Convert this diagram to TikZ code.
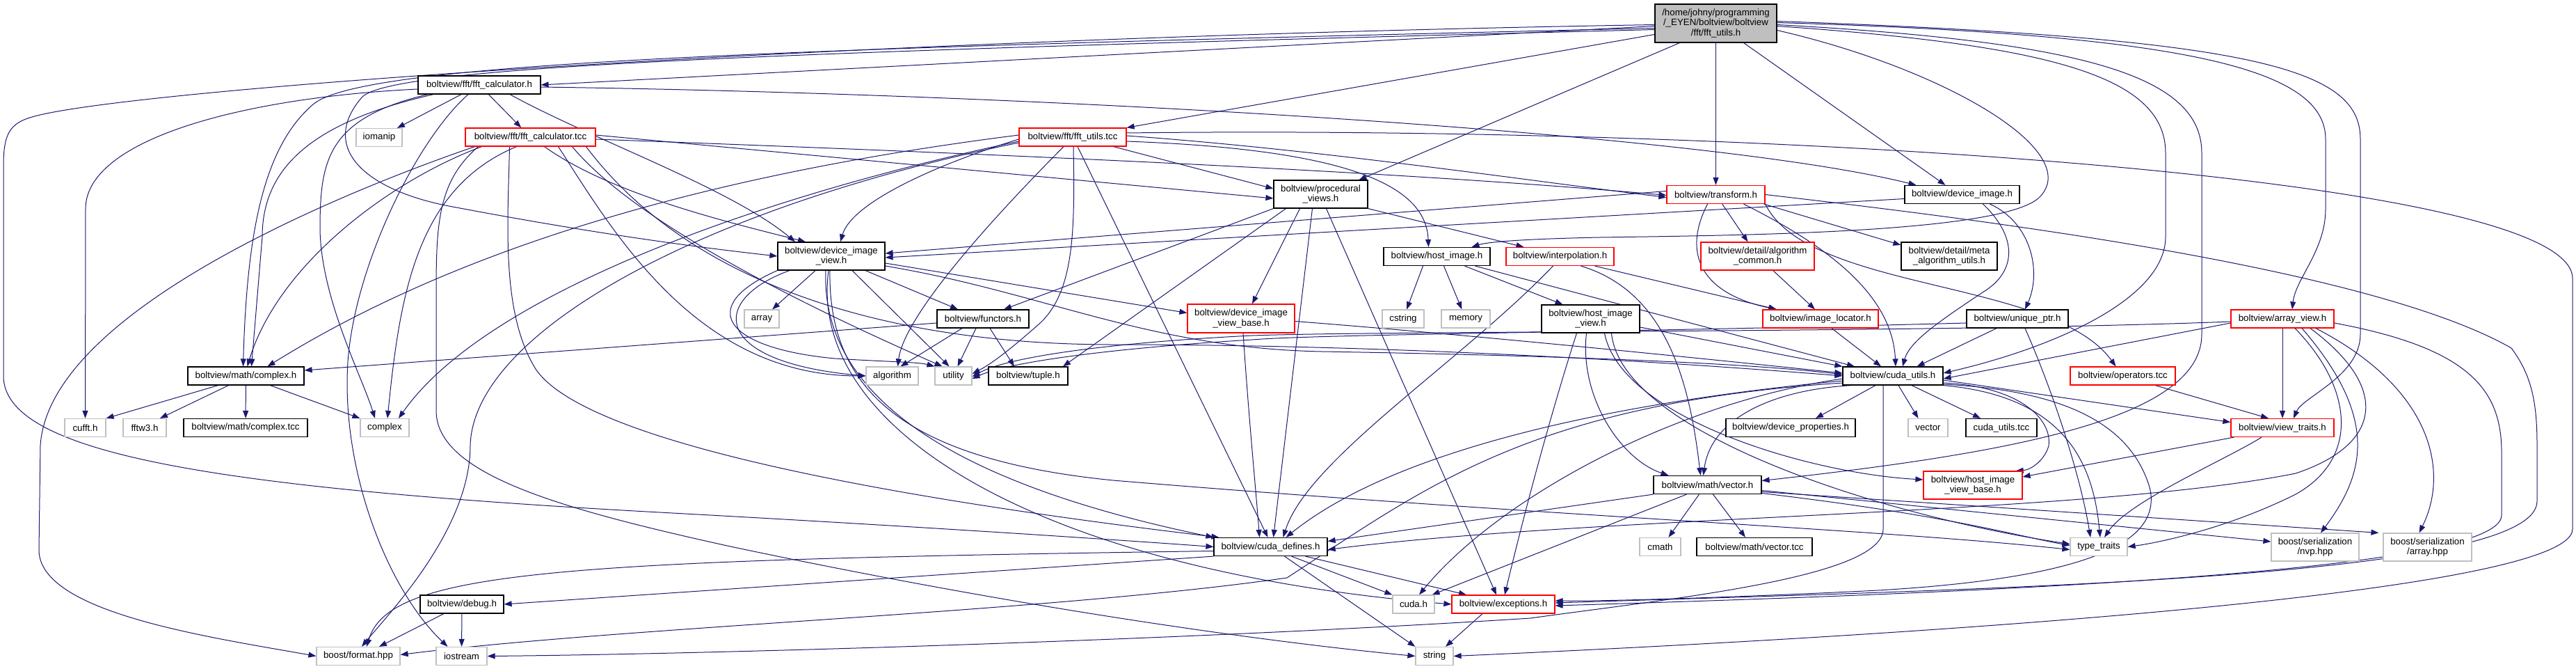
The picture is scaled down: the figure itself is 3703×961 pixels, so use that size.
\documentclass[tikz,border=0pt]{standalone}
\usepackage{fontspec}
\setmainfont{Liberation Sans}
\usetikzlibrary{arrows.meta}

\definecolor{midnight}{HTML}{191970}
\definecolor{grey75}{HTML}{BFBFBF}

\pgfdeclarelayer{bg}
\pgfsetlayers{bg,main}

\tikzset{
  file/.style={draw=black, fill=white, line width=1.2pt, inner xsep=2pt, inner ysep=0pt,
    minimum height=26pt, align=center, font=\fontsize{13.3}{14.2}\selectfont},
  ext/.style={file, draw=grey75},
  trunc/.style={file, draw=red},
  mainfile/.style={file, fill=grey75},
  dep/.style={draw=midnight, line width=1pt, -{Triangle[length=11pt,width=8pt]}},
}

\begin{document}
\begin{tikzpicture}[x=1pt, y=-1pt]
\useasboundingbox (0,0) rectangle (3703,961);

% the header itself
\node[mainfile, minimum width=175pt, minimum height=55pt] (top) at (2466.5,33.5) {/home/johny/programming\\/\_EYEN/boltview/boltview\\/fft/fft\_utils.h};

% fft files
\node[file, minimum width=176pt] (fftcalc) at (689,122) {boltview/fft/fft\_calculator.h};
\node[ext, minimum width=66pt] (iomanip) at (545,197.5) {iomanip};
\node[trunc, minimum width=187pt] (fftcalctcc) at (762.5,197) {boltview/fft/fft\_calculator.tcc};
\node[trunc, minimum width=154pt] (fftutilstcc) at (1542,197) {boltview/fft/fft\_utils.tcc};

% second rank
\node[file, minimum width=135pt, minimum height=40pt] (procviews) at (1898.5,279) {boltview/procedural\\\_views.h};
\node[trunc, minimum width=141pt] (transform) at (2466.5,279.5) {boltview/transform.h};
\node[file, minimum width=165pt] (devimage) at (2820.5,279.5) {boltview/device\_image.h};
\node[file, minimum width=154pt, minimum height=40pt] (devimgview) at (1195,368) {boltview/device\_image\\\_view.h};
\node[file, minimum width=153pt] (hostimage) at (2065.5,368.5) {boltview/host\_image.h};
\node[trunc, minimum width=155pt] (interp) at (2242.5,368.5) {boltview/interpolation.h};
\node[trunc, minimum width=163pt, minimum height=40pt] (algcommon) at (2526.5,368) {boltview/detail/algorithm\\\_common.h};
\node[file, minimum width=138pt, minimum height=40pt] (metaalg) at (2802,368) {boltview/detail/meta\\\_algorithm\_utils.h};

% third rank
\node[ext, minimum width=50pt] (array) at (1095,458) {array};
\node[file, minimum width=132pt] (functors) at (1413,458) {boltview/functors.h};
\node[trunc, minimum width=154pt, minimum height=41pt] (devimgviewbase) at (1784,457.5) {boltview/device\_image\\\_view\_base.h};
\node[ext, minimum width=60pt] (cstring) at (2017,458) {cstring};
\node[ext, minimum width=70pt] (memory) at (2107,458) {memory};
\node[file, minimum width=141pt, minimum height=40pt] (hostimgview) at (2286.5,458) {boltview/host\_image\\\_view.h};
\node[trunc, minimum width=166pt] (imglocator) at (2617,458) {boltview/image\_locator.h};
\node[file, minimum width=146pt] (uniqueptr) at (2900,458) {boltview/unique\_ptr.h};
\node[trunc, minimum width=148pt] (arrayview) at (3281,458) {boltview/array\_view.h};

% fourth rank
\node[file, minimum width=167pt] (complexh) at (353.5,540) {boltview/math/complex.h};
\node[ext, minimum width=75pt] (algorithm) at (1282.5,540) {algorithm};
\node[ext, minimum width=53pt] (utility) at (1370.5,540) {utility};
\node[file, minimum width=114pt] (tuple) at (1478,540) {boltview/tuple.h};
\node[file, minimum width=144pt] (cudautils) at (2721,540) {boltview/cuda\_utils.h};
\node[trunc, minimum width=151pt] (operators) at (3051.5,540) {boltview/operators.tcc};

% fifth rank
\node[ext, minimum width=59pt] (cufft) at (122.5,614.5) {cufft.h};
\node[ext, minimum width=62pt] (fftw3) at (208,614.5) {fftw3.h};
\node[file, minimum width=178pt] (complextcc) at (353,614.5) {boltview/math/complex.tcc};
\node[ext, minimum width=70pt] (complex) at (553,614.5) {complex};
\node[file, minimum width=186pt] (devprops) at (2574,614.5) {boltview/device\_properties.h};
\node[ext, minimum width=57pt] (vector) at (2771.5,614.5) {vector};
\node[file, minimum width=102pt] (cudautilstcc) at (2877,614.5) {cuda\_utils.tcc};
\node[trunc, minimum width=148pt] (viewtraits) at (3281,614.5) {boltview/view\_traits.h};
\node[file, minimum width=155pt] (mathvector) at (2454.5,696.5) {boltview/math/vector.h};
\node[trunc, minimum width=142pt, minimum height=40pt] (hostimgviewbase) at (2836,697) {boltview/host\_image\\\_view\_base.h};

% sixth rank
\node[file, minimum width=163pt] (cudadefines) at (1826.5,785.5) {boltview/cuda\_defines.h};
\node[ext, minimum width=59pt] (cmath) at (2386.5,785.5) {cmath};
\node[file, minimum width=166pt] (vectortcc) at (2522,785.5) {boltview/math/vector.tcc};
\node[ext, minimum width=82pt] (typetraits) at (3017,785.5) {type\_traits};
\node[ext, minimum width=126pt, minimum height=40pt] (nvp) at (3328,786) {boost/serialization\\/nvp.hpp};
\node[ext, minimum width=127pt, minimum height=40pt] (arrayhpp) at (3489.5,786) {boost/serialization\\/array.hpp};

% bottom
\node[file, minimum width=120pt] (debug) at (664,868) {boltview/debug.h};
\node[ext, minimum width=60pt] (cudah) at (2032,868) {cuda.h};
\node[trunc, minimum width=148pt] (exceptions) at (2161,868) {boltview/exceptions.h};
\node[ext, minimum width=120pt] (format) at (515,942.5) {boost/format.hpp};
\node[ext, minimum width=73pt] (iostream) at (663.5,942.5) {iostream};
\node[ext, minimum width=54pt] (string) at (2062,942.5) {string};

\begin{pgfonlayer}{bg}
% from fft_utils.h
\draw[dep] ([yshift=-4pt]top.west) -- (fftcalc.east);
\draw[dep] ([yshift=-16pt]top.west) -- (fftutilstcc.north east);
\draw[dep] ([xshift=36pt]top.south west) -- ([xshift=55pt]procviews.north);
\draw[dep] (top) -- (transform);
\draw[dep] ([xshift=-48pt]top.south east) -- ([xshift=-24pt]devimage.north);
\draw[dep] ([yshift=-7pt]top.west) .. controls (1100,70) and (520,90) .. (450,150) .. controls (380,210) and (355,330) .. ([xshift=-4pt]complexh.north);
\draw[dep] ([yshift=-9pt]top.west) .. controls (1100,75) and (560,95) .. (520,140) .. controls (460,210) and (520,270) .. (640,295) .. controls (850,335) and (1000,355) .. (devimgview.west);
\draw[dep] ([yshift=-2pt]top.west) .. controls (1200,55) and (150,130) .. (40,170) .. controls (10,180) and (5,200) .. (5,240) -- (5,540) .. controls (5,650) and (300,700) .. (930,735) .. controls (1300,755) and (1600,775) .. (cudadefines.west);
\draw[dep] ([yshift=-10pt]top.east) .. controls (2800,100) and (3000,220) .. (2930,285) .. controls (2870,335) and (2500,338) .. (2300,341) .. controls (2200,343) and (2140,347) .. ([xshift=50pt]hostimage.north);
\draw[dep] ([yshift=-4pt]top.east) .. controls (2950,65) and (3113,110) .. (3113,220) -- (3113,340) .. controls (3113,430) and (2950,500) .. ([yshift=4pt]cudautils.east);
\draw[dep] ([yshift=-2pt]top.east) .. controls (3000,60) and (3165,110) .. (3165,220) -- (3165,480) .. controls (3165,600) and (2900,650) .. ([yshift=6pt]mathvector.east);
\draw[dep] ([yshift=1pt]top.east) .. controls (3150,50) and (3343,100) .. (3343,200) -- (3343,300) .. controls (3343,360) and (3300,400) .. ([xshift=14pt]arrayview.north);
\draw[dep] ([yshift=3pt]top.east) .. controls (3250,55) and (3393,100) .. (3393,200) -- (3393,480) .. controls (3393,540) and (3310,570) .. ([xshift=16pt]viewtraits.north);

% from fft_calculator.h
\draw[dep] (fftcalc) -- (iomanip);
\draw[dep] (fftcalc) -- (fftcalctcc);
\draw[dep] ([yshift=-6pt]fftcalc.west) .. controls (350,140) and (123,200) .. (123,300) -- (cufft.north);
\draw[dep] ([xshift=-66pt]fftcalc.south) .. controls (450,175) and (377,240) .. (377,340) -- ([xshift=8pt]complexh.north);
\draw[dep] ([xshift=-74pt]fftcalc.south) .. controls (470,170) and (460,230) .. (460,330) .. controls (462,430) and (520,540) .. ([xshift=-14pt]complex.north);
\draw[dep] ([xshift=-16pt]fftcalc.south) .. controls (600,200) and (510,380) .. (500,520) .. controls (490,680) and (560,850) .. ([xshift=-20pt]iostream.north);
\draw[dep] ([yshift=-3pt]fftcalc.east) .. controls (1500,135) and (2450,190) .. ([xshift=-66pt]devimage.north);
\draw[dep] ([xshift=44pt]fftcalc.south) .. controls (850,200) and (1050,270) .. ([xshift=-52pt]devimgview.north);

% from fft_calculator.tcc
\draw[dep] ([yshift=3pt]fftcalctcc.east) -- ([yshift=-6pt]procviews.west);
\draw[dep] ([yshift=-3pt]fftcalctcc.east) .. controls (1400,220) and (2000,245) .. ([yshift=-1pt]transform.west);
\draw[dep] ([xshift=20pt]fftcalctcc.south) .. controls (880,280) and (1050,320) .. ([xshift=-37pt]devimgview.north);
\draw[dep] ([xshift=-70pt]fftcalctcc.south) .. controls (560,260) and (400,380) .. ([xshift=2pt]complexh.north);
\draw[dep] ([xshift=-20pt]fftcalctcc.south) .. controls (600,270) and (575,420) .. ([xshift=4pt]complex.north);
\draw[dep] ([xshift=-80pt]fftcalctcc.south) .. controls (480,280) and (70,450) .. (58,640) -- (56,790) .. controls (56,880) and (300,915) .. (format.west);
\draw[dep] ([xshift=-30pt]fftcalctcc.south) .. controls (730,320) and (720,450) .. (770,530) .. controls (850,650) and (1400,730) .. ([xshift=8pt]cudadefines.north west);
\draw[dep] ([xshift=-75pt]fftcalctcc.south) .. controls (630,260) and (627,320) .. (627,420) -- (627,590) .. controls (627,680) and (800,730) .. (1050,785) .. controls (1500,880) and (1850,925) .. (string.west);
\draw[dep] ([xshift=40pt]fftcalctcc.south) .. controls (880,330) and (1000,540) .. (algorithm.west);
\draw[dep] ([xshift=60pt]fftcalctcc.south) .. controls (930,340) and (1250,480) .. ([xshift=-16pt]utility.north);
\draw[dep] ([xshift=80pt]fftcalctcc.south) .. controls (1000,420) and (1300,495) .. (1600,495) .. controls (2000,495) and (2400,520) .. (cudautils.west);

% from fft_utils.tcc
\draw[dep] ([xshift=-19pt]fftutilstcc.south east) -- ([yshift=8pt]procviews.west);
\draw[dep] ([yshift=2pt]fftutilstcc.east) .. controls (1900,215) and (2200,260) .. ([yshift=-4pt]transform.west);
\draw[dep] ([yshift=-6pt]fftutilstcc.east) .. controls (1950,215) and (2050,270) .. ([xshift=-12pt]hostimage.north);
\draw[dep] ([yshift=6pt]fftutilstcc.east) .. controls (2500,180) and (3698,250) .. (3698,400) -- (3698,760) .. controls (3698,860) and (2600,920) .. (string.east);
\draw[dep] ([yshift=-3pt]fftutilstcc.west) .. controls (1350,235) and (1225,290) .. ([xshift=13pt]devimgview.north);
\draw[dep] ([yshift=3pt]fftutilstcc.west) .. controls (1100,240) and (700,330) .. ([xshift=31pt]complexh.north);
\draw[dep] ([yshift=-6pt]fftutilstcc.west) .. controls (1100,280) and (700,420) .. ([xshift=20pt]complex.north);
\draw[dep] ([yshift=-8pt]fftutilstcc.west) .. controls (1000,300) and (680,480) .. (676,640) .. controls (676,760) and (560,880) .. ([xshift=5pt]format.north);
\draw[dep] ([xshift=-13pt]fftutilstcc.south) .. controls (1440,300) and (1300,450) .. ([xshift=8pt]algorithm.north);
\draw[dep] ([xshift=1pt]fftutilstcc.south) .. controls (1545,330) and (1545,420) .. (1493,466) .. controls (1460,495) and (1430,520) .. ([yshift=3pt]utility.east);
\draw[dep] ([xshift=7pt]fftutilstcc.south) -- ([xshift=-4pt]cudadefines.north);

% from procedural_views.h
\draw[dep] (procviews.south west) -- ([xshift=30pt]functors.north);
\draw[dep] ([xshift=-50pt]procviews.south) -- ([xshift=50pt]tuple.north);
\draw[dep] ([xshift=-30pt]procviews.south) -- ([xshift=16pt]devimgviewbase.north);
\draw[dep] (procviews.south east) -- ([xshift=-52pt]interp.north);
\draw[dep] ([xshift=-12pt]procviews.south) -- ([xshift=4pt]cudadefines.north);
\draw[dep] ([xshift=8pt]procviews.south) -- ([xshift=-10pt]exceptions.north);

% from transform.h
\draw[dep] ([yshift=5pt]transform.west) -- ([yshift=4pt]devimgview.east);
\draw[dep] (transform) -- (algcommon);
\draw[dep] ([xshift=-2pt]transform.south east) -- ([yshift=16pt]metaalg.west);
\draw[dep] ([xshift=-12pt]transform.south) .. controls (2420,360) and (2440,420) .. ([xshift=-64pt]imglocator.north);
\draw[dep] ([xshift=40pt]transform.south) .. controls (2620,350) and (2720,420) .. ([xshift=4pt]cudautils.north);
\draw[dep] (transform.south east) .. controls (2600,420) and (2950,400) .. ([xshift=-10pt]operators.north);
\draw[dep] (transform.east) .. controls (2800,310) and (3400,380) .. (3610,500) .. controls (3640,540) and (3647,580) .. (3647,640) -- (3647,720) .. controls (3647,830) and (2900,845) .. ([yshift=2pt]exceptions.east);

% from device_image.h
\draw[dep] ([yshift=-6pt]devimage.west) -- ([yshift=-2pt]devimgview.east);
\draw[dep] ([xshift=40pt]devimage.south) .. controls (2920,320) and (2935,390) .. ([xshift=11pt]uniqueptr.north);
\draw[dep] ([xshift=30pt]devimage.south) .. controls (2900,340) and (2900,390) .. (2850,420) .. controls (2790,460) and (2745,490) .. ([xshift=14pt]cudautils.north);

% from device_image_view.h
\draw[dep] (devimgview) -- (array);
\draw[dep] (devimgview) -- ([xshift=-36pt]functors.north);
\draw[dep] ([yshift=-10pt]devimgview.east) -- ([yshift=8pt]devimgviewbase.west);
\draw[dep] ([xshift=-60pt]devimgview.south) .. controls (1020,430) and (1020,520) .. (algorithm.west);
\draw[dep] (devimgview.south west) .. controls (1000,440) and (1040,500) .. (1200,515) .. controls (1280,520) and (1320,520) .. (utility.north west);
\draw[dep] ([xshift=30pt]devimgview.south) -- ([xshift=-6pt]utility.north);
\draw[dep] ([yshift=-14pt]devimgview.east) .. controls (1500,420) and (1650,500) .. (1900,505) .. controls (2200,510) and (2500,520) .. ([yshift=2pt]cudautils.west);
\draw[dep] ([xshift=-8pt]devimgview.south) .. controls (1180,560) and (1350,690) .. (cudadefines.north west);
\draw[dep] ([xshift=-4pt]devimgview.south) .. controls (1160,620) and (1500,820) .. (exceptions.west);
\draw[dep] ([xshift=-2pt]devimgview.south) .. controls (1190,560) and (1300,660) .. (1600,690) .. controls (2200,740) and (2700,760) .. ([yshift=-4pt]typetraits.west);

% from functors.h
\draw[dep] ([yshift=-6pt]functors.west) -- ([yshift=8pt]complexh.east);
\draw[dep] ([xshift=-30pt]functors.south) -- ([xshift=12pt]algorithm.north);
\draw[dep] ([xshift=-10pt]functors.south) -- ([xshift=6pt]utility.north);
\draw[dep] ([xshift=10pt]functors.south) -- ([xshift=-20pt]tuple.north);

% from device_image_view_base.h
\draw[dep] ([xshift=3pt]devimgviewbase.south) .. controls (1795,600) and (1805,700) .. ([xshift=-16pt]cudadefines.north);
\draw[dep] ([yshift=-4pt]devimgviewbase.east) .. controls (2100,480) and (2400,510) .. ([yshift=4pt]cudautils.west);

% from host_image.h
\draw[dep] ([xshift=-20pt]hostimage.south) -- (cstring);
\draw[dep] ([xshift=10pt]hostimage.south) -- (memory);
\draw[dep] ([xshift=40pt]hostimage.south) -- ([xshift=-40pt]hostimgview.north);
\draw[dep] ([xshift=55pt]hostimage.south) -- ([xshift=-55pt]cudautils.north);

% from interpolation.h
\draw[dep] ([xshift=50pt]interp.south) -- ([xshift=-63pt]imglocator.north);
\draw[dep] ([xshift=-10pt]interp.south) .. controls (2100,520) and (1880,660) .. ([xshift=18pt]cudadefines.north);
\draw[dep] ([xshift=30pt]interp.south) .. controls (2400,420) and (2430,560) .. ([xshift=-10pt]mathvector.north);

% from detail/algorithm_common.h and image_locator.h
\draw[dep] (algcommon) -- ([xshift=-8pt]imglocator.north);
\draw[dep] ([xshift=16pt]imglocator.south) -- ([xshift=-17pt]cudautils.north);

% from host_image_view.h
\draw[dep] ([yshift=-12pt]hostimgview.east) -- (cudautils.north west);
\draw[dep] ([xshift=-20pt]hostimgview.south) .. controls (2240,560) and (2200,700) .. ([xshift=2pt]exceptions.north);
\draw[dep] ([xshift=-6pt]hostimgview.south) .. controls (2270,570) and (2330,660) .. ([xshift=-56pt]mathvector.north);
\draw[dep] ([xshift=20pt]hostimgview.south) .. controls (2330,600) and (2600,680) .. ([yshift=8pt]hostimgviewbase.west);
\draw[dep] ([xshift=30pt]hostimgview.south) .. controls (2330,620) and (2700,740) .. ([yshift=4pt]typetraits.west);

% from unique_ptr.h
\draw[dep] ([xshift=-30pt]uniqueptr.south) -- ([xshift=-38pt]cudautils.north east);
\draw[dep] ([yshift=-6pt]uniqueptr.west) .. controls (2300,478) and (1900,480) .. (1800,488) .. controls (1600,500) and (1450,520) .. ([yshift=-4pt]utility.east);
\draw[dep] ([xshift=11pt]uniqueptr.south) .. controls (2950,560) and (2990,680) .. ([xshift=-12pt]typetraits.north);

% from array_view.h
\draw[dep] (arrayview) -- (viewtraits);
\draw[dep] ([yshift=-4pt]arrayview.west) .. controls (2800,478) and (2000,475) .. (1800,482) .. controls (1600,492) and (1450,512) .. ([yshift=-1pt]utility.east);
\draw[dep] ([yshift=-6pt]arrayview.west) -- ([yshift=-4pt]cudautils.east);
\draw[dep] ([xshift=18pt]arrayview.south) .. controls (3385,560) and (3390,660) .. (3300,710) .. controls (3200,760) and (3100,780) .. (typetraits.east);
\draw[dep] ([xshift=28pt]arrayview.south) .. controls (3420,600) and (3400,680) .. ([xshift=8pt]nvp.north);
\draw[dep] ([xshift=48pt]arrayview.south) .. controls (3500,560) and (3520,680) .. ([xshift=-12pt]arrayhpp.north);
\draw[dep] ([xshift=40pt]arrayview.south) .. controls (3440,560) and (3420,640) .. (3300,680) .. controls (3000,740) and (2300,740) .. ([yshift=-4pt]cudadefines.east);
\draw[dep] ([yshift=-6pt]arrayview.east) .. controls (3550,500) and (3596,560) .. (3596,650) -- (3596,740) .. controls (3596,820) and (2900,850) .. ([yshift=-2pt]exceptions.east);

% from operators.tcc and view_traits.h
\draw[dep] (operators) -- ([xshift=-20pt]viewtraits.north);
\draw[dep] ([xshift=5pt]viewtraits.south west) -- ([yshift=12pt]hostimgviewbase.east);
\draw[dep] ([xshift=-30pt]viewtraits.south) .. controls (3200,660) and (3060,720) .. ([xshift=8pt]typetraits.north);

% from math/complex.h
\draw[dep] ([xshift=-40pt]complexh.south) -- (cufft.north east);
\draw[dep] ([xshift=-25pt]complexh.south) -- ([xshift=22pt]fftw3.north);
\draw[dep] (complexh) -- (complextcc);
\draw[dep] ([xshift=35pt]complexh.south) -- (complex.north west);

% from cuda_utils.h
\draw[dep] ([xshift=-25pt]cudautils.south) -- ([xshift=36pt]devprops.north);
\draw[dep] ([xshift=8pt]cudautils.south) -- ([xshift=-14pt]vector.north);
\draw[dep] ([xshift=27pt]cudautils.south) -- ([xshift=-30pt]cudautilstcc.north);
\draw[dep] ([yshift=-6pt]cudautils.east) -- ([yshift=8pt]viewtraits.west);
\draw[dep] ([xshift=-60pt]cudautils.south) .. controls (2550,560) and (2460,600) .. ([xshift=-6pt]mathvector.north);
\draw[dep] ([yshift=-7pt]cudautils.west) .. controls (2300,580) and (2000,650) .. ([xshift=-60pt]cudadefines.north east);
\draw[dep] ([yshift=-4pt]cudautils.west) .. controls (2400,580) and (2150,720) .. ([xshift=8pt]cudah.north);
\draw[dep] ([yshift=-10pt]cudautils.west) .. controls (2200,580) and (2050,700) .. (1850,830) .. controls (1500,880) and (900,900) .. ([yshift=2pt]format.east);
\draw[dep] ([xshift=-14pt]cudautils.south) -- (2707,760) .. controls (2707,830) and (2400,860) .. (2200,888) .. controls (1700,920) and (1000,940) .. (iostream.east);
\draw[dep] ([yshift=-12pt]cudautils.east) .. controls (2950,560) and (3060,600) .. (3090,700) .. controls (3110,780) and (3000,830) .. (2700,848) .. controls (2500,858) and (2300,864) .. ([yshift=5pt]exceptions.east);
\draw[dep] (cudautils.south east) .. controls (2980,570) and (3010,680) .. ([xshift=2pt]typetraits.north);
\draw[dep] ([yshift=-10pt]cudautils.east) .. controls (2900,555) and (2950,600) .. (2945,640) .. controls (2940,660) and (2920,675) .. ([xshift=-10pt]hostimgviewbase.north east);

% from math/vector.h
\draw[dep] (mathvector.south west) -- ([yshift=8pt]cudadefines.east);
\draw[dep] ([xshift=-30pt]mathvector.south) -- ([xshift=-4pt]cudah.north east);
\draw[dep] ([xshift=-12pt]mathvector.south) -- ([xshift=12pt]cmath.north);
\draw[dep] ([xshift=8pt]mathvector.south) -- ([xshift=-13pt]vectortcc.north);
\draw[dep] ([yshift=-8pt]mathvector.east) -- ([yshift=8pt]nvp.west);
\draw[dep] ([yshift=-10pt]mathvector.east) -- ([xshift=-6pt]arrayhpp.north west);
\draw[dep] ([yshift=-12pt]mathvector.east) .. controls (2800,740) and (2900,770) .. ([yshift=2pt]typetraits.west);

% from cuda_defines.h
\draw[dep] ([yshift=-6pt]cudadefines.west) .. controls (800,805) and (560,820) .. ([xshift=12pt]format.north);
\draw[dep] (cudadefines.south west) -- (debug.east);
\draw[dep] ([xshift=20pt]cudadefines.south) -- (string.north west);
\draw[dep] ([xshift=30pt]cudadefines.south) -- (cudah.north west);
\draw[dep] ([xshift=50pt]cudadefines.south) -- ([xshift=-53pt]exceptions.north);

% from exceptions.h and debug.h
\draw[dep] ([xshift=-30pt]exceptions.south) -- ([xshift=16pt]string.north);
\draw[dep] ([xshift=-26pt]debug.south) -- ([xshift=30pt]format.north);
\draw[dep] (debug) -- (iostream);
\end{pgfonlayer}

\end{tikzpicture}
\end{document}
